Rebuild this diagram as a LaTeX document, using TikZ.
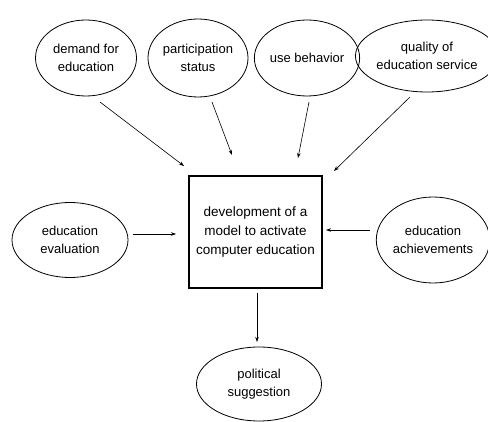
\documentclass[tikz,border=0pt]{standalone}
\usepackage{fontspec}
\setmainfont{Liberation Sans}
\usetikzlibrary{shapes.geometric,arrows.meta}
\begin{document}
\begin{tikzpicture}[x=1pt,y=-1pt,
  oval/.style={draw,ellipse,line width=0.8pt,inner sep=0pt,align=center,font=\fontsize{13}{18}\selectfont},
  mainbox/.style={draw,line width=1.8pt,inner sep=0pt,align=center,font=\fontsize{13.5}{19}\selectfont},
  arr/.style={line width=0.6pt,-{Stealth[length=5pt,width=3.5pt]}}]
\useasboundingbox (0,0) rectangle (488,422);
\node[oval,minimum width=101pt,minimum height=76pt] (e1) at (86,58) {demand for\\education};
\node[oval,minimum width=100pt,minimum height=78pt] (e2) at (198,58) {participation\\status};
\node[oval,minimum width=101pt,minimum height=76pt] (e3) at (307,58) {use behavior};
\node[oval,minimum width=119pt,minimum height=72pt] (e4) at (427,56) {quality of\\education service};
\node[mainbox,minimum width=133pt,minimum height=112pt] (box) at (255.5,232) {development of a\\model to activate\\computer education};
\node[oval,minimum width=116pt,minimum height=75pt] (e5) at (70,240) {education\\evaluation};
\node[oval,minimum width=108pt,minimum height=86pt] (e6) at (433,240) {education\\achievements};
\node[oval,minimum width=125pt,minimum height=74pt] (e7) at (259,384) {political\\suggestion};
\coordinate (s1) at (100,102); \coordinate (t1) at (184,166);
\coordinate (s2) at (212,102); \coordinate (t2) at (232,155);
\coordinate (s3) at (309,102); \coordinate (t3) at (298,158);
\coordinate (s4) at (410,97);  \coordinate (t4) at (334,171);
\coordinate (s5) at (133,234); \coordinate (t5) at (176,234);
\coordinate (s6) at (370,230); \coordinate (t6) at (326,230);
\coordinate (s7) at (257,293); \coordinate (t7) at (257,342);
\draw[arr] (s1) -- (t1);
\draw[arr] (s2) -- (t2);
\draw[arr] (s3) -- (t3);
\draw[arr] (s4) -- (t4);
\draw[arr] (s5) -- (t5);
\draw[arr] (s6) -- (t6);
\draw[arr] (s7) -- (t7);
\end{tikzpicture}
\end{document}
